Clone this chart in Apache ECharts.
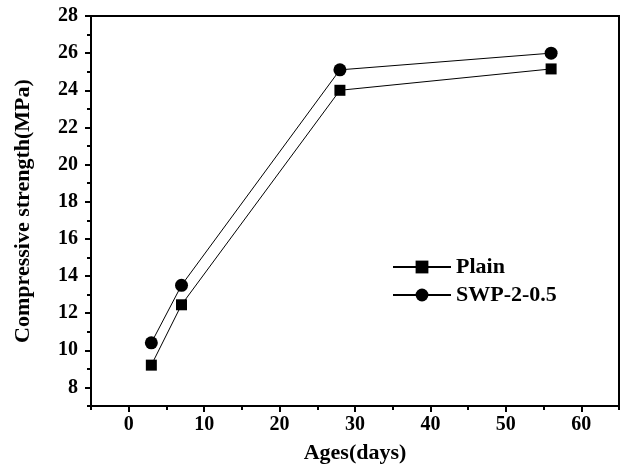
<!DOCTYPE html>
<html><head><meta charset="utf-8">
<script src="https://cdn.jsdelivr.net/npm/echarts@6/dist/echarts.min.js"></script>
<style>html,body{margin:0;padding:0;background:#fff}#c{width:624px;height:475px}</style>
</head><body><div id="c"></div>
<script>
const ages = [3, 7, 28, 56];
const plain = [9.2, 12.45, 24.0, 25.15];
const swp = [10.4, 13.5, 25.1, 26.0];
const xTicks = [0, 10, 20, 30, 40, 50, 60];
const yTicks = [8, 10, 12, 14, 16, 18, 20, 22, 24, 26, 28];
const seriesNames = ['Plain', 'SWP-2-0.5'];

const font = 'Liberation Serif';
const chart = echarts.init(document.getElementById('c'));
const axisLine = {show: true, onZero: false, lineStyle: {color: '#000', width: 2}};
chart.setOption({
  animation: false,
  backgroundColor: '#fff',
  grid: {left: 91, right: 5, top: 16, bottom: 69, show: true, borderColor: '#000', borderWidth: 2, backgroundColor: 'transparent'},
  legend: {
    orient: 'vertical', left: 387, top: 251, itemWidth: 58, itemHeight: 16, itemGap: 6,
    textStyle: {fontFamily: font, fontWeight: 'bold', fontSize: 22, color: '#000'},
    data: seriesNames
  },
  xAxis: [{
    type: 'value', min: -5, max: 65,
    name: 'Ages(days)', nameLocation: 'middle', nameGap: 36,
    nameTextStyle: {fontFamily: font, fontWeight: 'bold', fontSize: 22, color: '#000'},
    axisLine: axisLine,
    axisTick: {show: true, customValues: xTicks, length: 6, lineStyle: {color: '#000', width: 2}},
    axisLabel: {customValues: xTicks, margin: 9, fontFamily: font, fontWeight: 'bold', fontSize: 20, color: '#000'},
    splitLine: {show: false}
  }, {
    type: 'value', min: -5, max: 65, interval: 5, position: 'bottom',
    axisLine: {show: false, onZero: false},
    axisTick: {show: true, length: 4, lineStyle: {color: '#000', width: 2}},
    axisLabel: {show: false}, splitLine: {show: false}
  }],
  yAxis: [{
    type: 'value', min: 7, max: 28,
    name: 'Compressive strength(MPa)', nameLocation: 'middle', nameGap: 57,
    nameTextStyle: {fontFamily: font, fontWeight: 'bold', fontSize: 22, color: '#000'},
    axisLine: axisLine,
    axisTick: {show: true, customValues: yTicks, length: 6, lineStyle: {color: '#000', width: 2}},
    axisLabel: {customValues: yTicks, margin: 13, fontFamily: font, fontWeight: 'bold', fontSize: 20, color: '#000'},
    splitLine: {show: false}
  }, {
    type: 'value', min: 7, max: 28, interval: 1, position: 'left',
    axisLine: {show: false, onZero: false},
    axisTick: {show: true, length: 4, lineStyle: {color: '#000', width: 2}},
    axisLabel: {show: false}, splitLine: {show: false}
  }],
  series: [{
    name: seriesNames[0], type: 'line', xAxisIndex: 0, yAxisIndex: 0,
    data: ages.map((a, i) => [a, plain[i]]),
    symbol: 'rect', symbolSize: 11,
    lineStyle: {color: '#000', width: 1}, itemStyle: {color: '#000'}
  }, {
    name: seriesNames[1], type: 'line', xAxisIndex: 0, yAxisIndex: 0,
    data: ages.map((a, i) => [a, swp[i]]),
    symbol: 'circle', symbolSize: 13,
    lineStyle: {color: '#000', width: 1}, itemStyle: {color: '#000'}
  }]
});
</script></body></html>
